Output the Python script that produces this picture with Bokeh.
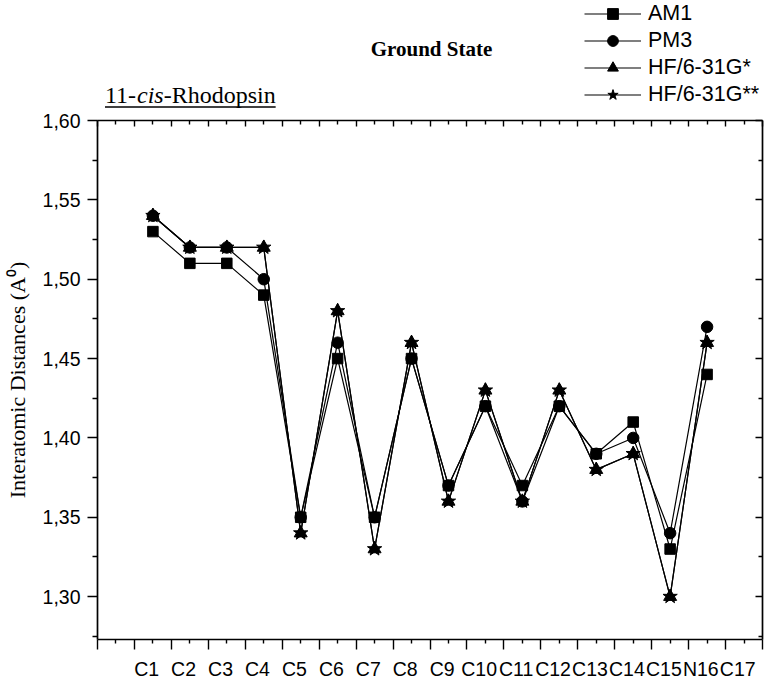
from bokeh.plotting import figure
from bokeh.layouts import column
from bokeh.models import (LinearAxis, FixedTicker, CustomJSTickFormatter, Legend,
                          LegendItem, Range1d)
from bokeh.core.properties import value
from bokeh.embed import file_html
from bokeh.resources import INLINE

# ---------------- data ----------------
categories = ["C1", "C2", "C3", "C4", "C5", "C6", "C7", "C8", "C9", "C10",
              "C11", "C12", "C13", "C14", "C15", "N16", "C17"]
am1 = [1.53, 1.51, 1.51, 1.49, 1.35, 1.45, 1.35, 1.45, 1.37, 1.42,
       1.37, 1.42, 1.39, 1.41, 1.33, 1.44]
pm3 = [1.54, 1.52, 1.52, 1.50, 1.35, 1.46, 1.35, 1.45, 1.37, 1.42,
       1.36, 1.42, 1.39, 1.40, 1.34, 1.47]
hf_631g_star = [1.54, 1.52, 1.52, 1.52, 1.34, 1.48, 1.33, 1.46, 1.36, 1.43,
                1.36, 1.43, 1.38, 1.39, 1.30, 1.46]
hf_631g_2star = [1.54, 1.52, 1.52, 1.52, 1.34, 1.48, 1.33, 1.46, 1.36, 1.43,
                 1.36, 1.43, 1.38, 1.39, 1.30, 1.46]
series_names = ["AM1", "PM3", "HF/6-31G*", "HF/6-31G**"]
y_ticks = [1.30, 1.35, 1.40, 1.45, 1.50, 1.55, 1.60]
title_text = "Ground State"
subtitle_pieces = [("11-", "normal", 1.333), ("cis", "italic", 1.111),
                   ("-Rhodopsin", "normal", 4.667)]

# ---------------- layout ----------------
W = 766
HT = 108              # header figure (title, subtitle, legend)
HM = 682 - HT         # main figure
BL, BR, BT, BB = 97, 4, 12, 34
X0, X1 = 0, 18
Y0, Y1 = 1.273, 1.60

markers = ["square", "circle", "triangle", "star"]
sizes = [10.5, 11.5, 13, 15]
SERIF = "Liberation Serif"
SANS = "Liberation Sans"
NAN = float("nan")

# ---------------- header figure (coordinates = canvas pixels, y up) ----------------
ph = figure(width=W, height=HT, x_range=Range1d(BL, W - BR), y_range=Range1d(0, HT),
            output_backend="svg", toolbar_location=None,
            x_axis_location=None, y_axis_location=None,
            min_border_left=BL, min_border_right=BR, min_border_top=0, min_border_bottom=0)
ph.outline_line_color = None
ph.xgrid.visible = False
ph.ygrid.visible = False

ph.text(x=[431], y=[HT - 48], text=[title_text], text_font=value(SERIF),
        text_font_style="bold", text_font_size="21px", text_align="center",
        text_baseline="middle", text_color="black")

fs = 24
cur = 104.5
mid_y = HT - 94.5
start = cur
for txt, style, em in subtitle_pieces:
    ph.text(x=[cur], y=[mid_y], text=[txt], text_font=value(SERIF),
            text_font_style=style, text_font_size=f"{fs}px", text_align="left",
            text_baseline="middle", text_color="black")
    cur += em * fs
ph.line(x=[start, cur], y=[HT - 106.5, HT - 106.5], line_color="black", line_width=1.5)

items = []
for name, m in zip(series_names, markers):
    rl = ph.line(x=[NAN], y=[NAN], line_color="black", line_width=1.2)
    rs = ph.scatter(x=[NAN], y=[NAN], marker=m, size=10, fill_color="black", line_color="black")
    items.append(LegendItem(label=name, renderers=[rl, rs]))
legend = Legend(items=items, location=(584 - BL, 0),
                padding=0, margin=0, spacing=0, glyph_width=57, glyph_height=27,
                label_height=27, label_standoff=7,
                label_text_font=SANS, label_text_font_size="21.5px",
                label_text_color="black", border_line_color=None,
                background_fill_alpha=0)
ph.add_layout(legend)

# ---------------- main figure ----------------
p = figure(width=W, height=HM, x_range=Range1d(X0, X1), y_range=Range1d(Y0, Y1),
           output_backend="svg", toolbar_location=None,
           x_axis_location=None, y_axis_location=None,
           min_border_left=BL, min_border_right=BR,
           min_border_top=BT, min_border_bottom=BB)
p.outline_line_color = None
p.xgrid.visible = False
p.ygrid.visible = False

empty = CustomJSTickFormatter(code="return ''")
AXW = 1.7
TKW = 1.4

x_major = list(range(X0, X1 + 1))
x_minor = [k + 0.5 for k in range(X0, X1)]
y_minor = [t - 0.025 for t in y_ticks]

ax_b = LinearAxis(ticker=FixedTicker(ticks=x_major, minor_ticks=x_minor),
                  formatter=empty, major_tick_out=10, major_tick_in=0,
                  minor_tick_out=4, minor_tick_in=0, major_label_standoff=0,
                  major_label_text_font_size="0px",
                  axis_line_width=AXW, major_tick_line_width=TKW,
                  minor_tick_line_width=TKW)
p.add_layout(ax_b, "below")

lab_pos = [i + 1 + 0.33 for i in range(len(categories))]
ax_lab = LinearAxis(ticker=FixedTicker(ticks=lab_pos, minor_ticks=[]),
                    formatter=CustomJSTickFormatter(
                        args=dict(labs=categories),
                        code="const k = Math.round(tick - 0.33) - 1; return labs[k] || '';"),
                    axis_line_color=None, major_tick_line_color=None,
                    minor_tick_line_color=None, major_label_standoff=2,
                    major_label_text_font=SANS,
                    major_label_text_font_size="19.5px",
                    major_label_text_color="black")
p.add_layout(ax_lab, "below")

ax_l = LinearAxis(ticker=FixedTicker(ticks=y_ticks, minor_ticks=y_minor),
                  formatter=CustomJSTickFormatter(code="return tick.toFixed(2).replace('.', ',');"),
                  major_tick_out=10, major_tick_in=0, minor_tick_out=5, minor_tick_in=0,
                  major_label_standoff=7,
                  major_label_text_font=SANS,
                  major_label_text_font_size="19.5px",
                  major_label_text_color="black",
                  axis_label="Interatomic Distances (A\u2070)",
                  axis_label_text_font=SERIF,
                  axis_label_text_font_style="normal",
                  axis_label_text_font_size="22px",
                  axis_label_text_color="black",
                  axis_label_standoff=10,
                  axis_line_width=AXW, major_tick_line_width=TKW,
                  minor_tick_line_width=TKW)
p.add_layout(ax_l, "left")

ax_t = LinearAxis(ticker=FixedTicker(ticks=x_major, minor_ticks=x_minor),
                  formatter=empty, major_tick_out=0, major_tick_in=6,
                  minor_tick_out=0, minor_tick_in=4, major_label_standoff=0,
                  major_label_text_font_size="0px",
                  axis_line_width=AXW, major_tick_line_width=TKW,
                  minor_tick_line_width=TKW)
p.add_layout(ax_t, "above")

ax_r = LinearAxis(ticker=FixedTicker(ticks=y_ticks, minor_ticks=y_minor),
                  formatter=empty, major_tick_out=0, major_tick_in=7,
                  minor_tick_out=0, minor_tick_in=4, major_label_standoff=0,
                  major_label_text_font_size="0px",
                  axis_line_width=AXW, major_tick_line_width=TKW,
                  minor_tick_line_width=TKW)
p.add_layout(ax_r, "right")

xs = [i + 1 + 0.5 for i in range(len(am1))]
all_series = [am1, pm3, hf_631g_star, hf_631g_2star]
for vals, m, s in zip(all_series, markers, sizes):
    p.line(xs, vals, line_color="black", line_width=1.2)
    p.scatter(xs, vals, marker=m, size=s, fill_color="black", line_color="black")

layout = column(ph, p, spacing=0)
open("out.html", "w").write(file_html(layout, INLINE))
